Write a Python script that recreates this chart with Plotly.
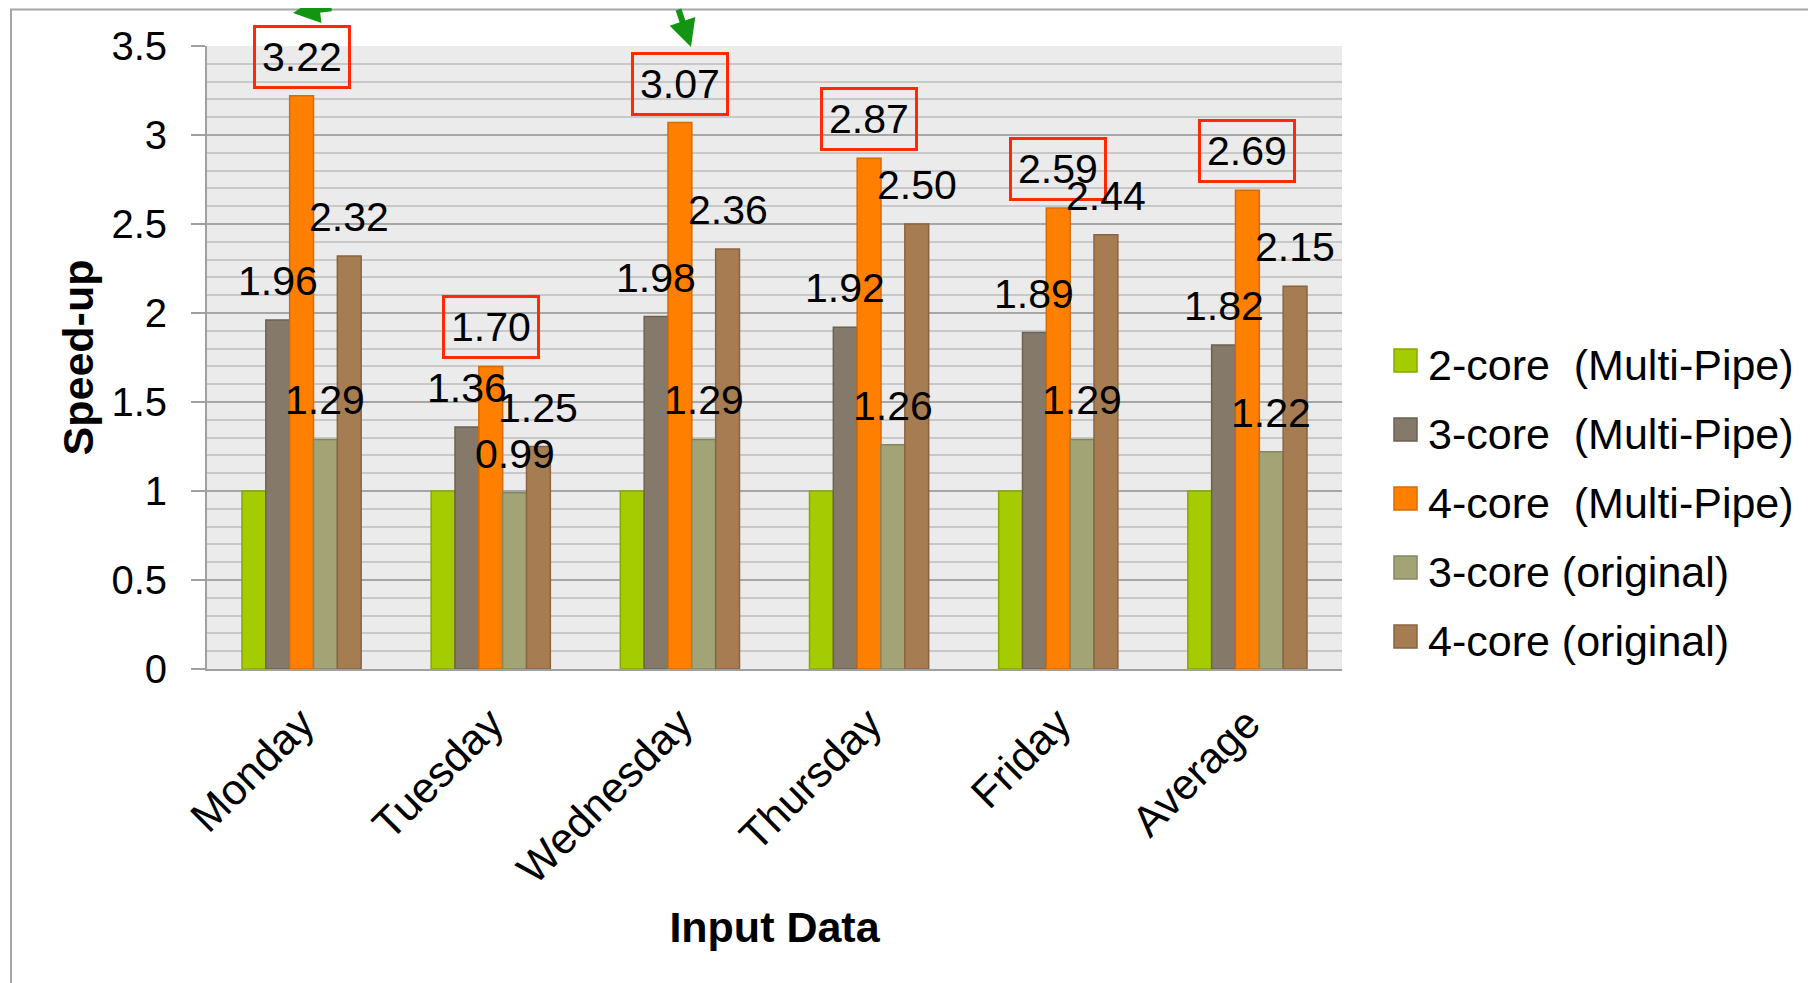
import plotly.graph_objects as go

# ---------------- data ----------------
categories = ["Monday", "Tuesday", "Wednesday", "Thursday", "Friday", "Average"]
series_names = [
    "2-core\u00a0 (Multi-Pipe)",
    "3-core\u00a0 (Multi-Pipe)",
    "4-core\u00a0 (Multi-Pipe)",
    "3-core (original)",
    "4-core (original)",
]
core2_multipipe = [1.00, 1.00, 1.00, 1.00, 1.00, 1.00]
core3_multipipe = [1.96, 1.36, 1.98, 1.92, 1.89, 1.82]
core4_multipipe = [3.22, 1.70, 3.07, 2.87, 2.59, 2.69]
core3_original = [1.29, 0.99, 1.29, 1.26, 1.29, 1.22]
core4_original = [2.32, 1.25, 2.36, 2.50, 2.44, 2.15]
series_values = [core2_multipipe, core3_multipipe, core4_multipipe, core3_original, core4_original]
show_labels = [False, True, True, True, True]
boxed_labels = [False, False, True, False, False]

# ---------------- style ----------------
fill_colors = ["#A4CC00", "#857A6A", "#FF8000", "#A2A476", "#A67C52"]
edge_colors = ["#86A800", "#6B6254", "#D96A00", "#858660", "#8A6440"]
FONT = "Liberation Sans, Arial, sans-serif"

PAGE_OFF = 8                      # default body margin of the html page
W, H = 1816 - PAGE_OFF, 983 - PAGE_OFF
# plot area in screen pixels
SX0, SX1, SY0, SY1 = 207, 1342, 46, 669
L, T = SX0 - PAGE_OFF, SY0 - PAGE_OFF
R = W - (SX1 - PAGE_OFF)
B = H - (SY1 - PAGE_OFF)
PW, PH = SX1 - SX0, SY1 - SY0


def px(X):
    return (X - SX0) / PW


def py(Y):
    return (SY1 - Y) / PH


bar_w = 0.126
n = len(series_values)
fig = go.Figure()
annotations = []
xs = list(range(len(categories)))
for k, (name, vals) in enumerate(zip(series_names, series_values)):
    off = -n * bar_w / 2 + k * bar_w
    fig.add_trace(go.Bar(
        x=xs, y=vals, name=name, offset=off, width=bar_w,
        marker=dict(color=fill_colors[k], line=dict(color=edge_colors[k], width=1.5)),
        showlegend=False,
    ))
    if show_labels[k]:
        for i, v in enumerate(vals):
            a = dict(x=i + off + bar_w / 2, y=v, xref="x", yref="y",
                     text=f"{v:.2f}", showarrow=False, xanchor="center", yanchor="middle",
                     yshift=39, font=dict(family=FONT, size=41, color="black"))
            if boxed_labels[k]:
                a.update(bordercolor="#FF2A00", borderwidth=3, borderpad=6)
            annotations.append(a)

# manual legend
leg_rows = [365, 434, 503, 572, 641]
shapes = []
for k, name in enumerate(series_names):
    yc = leg_rows[k]
    shapes.append(dict(type="rect", xref="paper", yref="paper",
                       x0=px(1394), x1=px(1417), y0=py(yc + 7), y1=py(yc - 16),
                       fillcolor=fill_colors[k], line=dict(color=edge_colors[k], width=1.5)))
    annotations.append(dict(x=px(1426), y=py(yc), xref="paper", yref="paper", text=name,
                            showarrow=False, xanchor="left", yanchor="middle",
                            font=dict(family=FONT, size=43, color="black")))

# outer frame
shapes.append(dict(type="rect", xref="paper", yref="paper",
                   x0=px(11), x1=px(1900), y0=py(1100), y1=py(9.5),
                   line=dict(color="#A6A6A6", width=2), fillcolor="rgba(0,0,0,0)", layer="below"))

# green arrows (partially cropped at the top)
annotations.append(dict(x=px(293), y=py(13), xref="paper", yref="paper", text="",
                        showarrow=True, arrowhead=2, arrowsize=0.9, arrowwidth=6,
                        arrowcolor="#129612", ax=40, ay=-40))
annotations.append(dict(x=px(691), y=py(47), xref="paper", yref="paper", text="",
                        showarrow=True, arrowhead=2, arrowsize=0.9, arrowwidth=6,
                        arrowcolor="#129612", ax=-13, ay=-55))

fig.update_layout(
    width=W, height=H,
    margin=dict(l=L, r=R, t=T, b=B),
    paper_bgcolor="white",
    plot_bgcolor="#EBEBEB",
    barmode="overlay",
    font=dict(family=FONT, color="black"),
    annotations=annotations,
    shapes=shapes,
    showlegend=False,
)
fig.update_xaxes(
    range=[-0.5, 5.5], tickmode="array", tickvals=xs, ticktext=categories,
    tickangle=-45, tickfont=dict(family=FONT, size=43, color="black"),
    showgrid=False, zeroline=False, showline=True, linecolor="#A0A0A0", linewidth=2,
    ticks="", automargin=False, ticklabelstandoff=10,
    title=dict(text="<b>Input Data</b>", font=dict(family=FONT, size=43, color="black"),
               standoff=20),
)
fig.update_yaxes(
    range=[0, 3.5], dtick=0.5, tick0=0,
    tickfont=dict(family=FONT, size=40, color="black"),
    showgrid=True, gridcolor="#A6A6A6", gridwidth=2,
    minor=dict(dtick=0.1, showgrid=True, gridcolor="#C8C8C8", gridwidth=2),
    zeroline=False, showline=True, linecolor="#A0A0A0", linewidth=2,
    ticks="outside", ticklen=14, tickcolor="#A0A0A0", tickwidth=2,
    ticklabelstandoff=16, automargin=False,
    title=dict(text="<b>Speed-up</b>", font=dict(family=FONT, size=43, color="black"),
               standoff=4),
)

fig.write_html("out.html")
